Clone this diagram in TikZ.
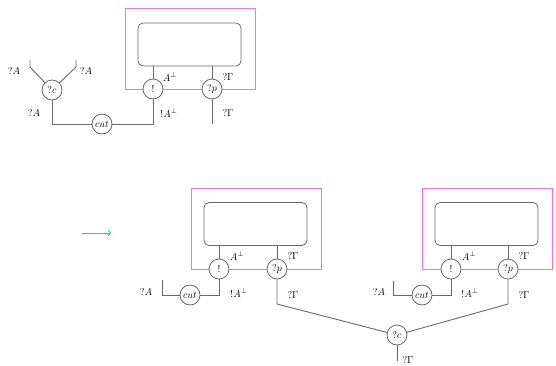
\documentclass[tikz,border=0pt]{standalone}
\usetikzlibrary{arrows.meta}
\definecolor{wirec}{RGB}{105,105,105}
\definecolor{framec}{RGB}{245,110,245}
\definecolor{arrowc}{RGB}{50,190,200}
\begin{document}
\begin{tikzpicture}[x=1pt,y=-1pt,
  wire/.style={draw=wirec, line width=0.9pt},
  cell/.style={circle, draw=wirec, line width=0.8pt, fill=white, minimum size=20pt, inner sep=0.5pt, font=\normalsize},
  netbox/.style={draw=wirec, rounded corners=5pt, line width=0.8pt, minimum width=103pt, minimum height=43pt, inner sep=0pt},
  magframe/.style={draw=framec, line width=1.2pt},
  lbl/.style={font=\normalsize, inner sep=0pt}
]
\useasboundingbox (0,0) rectangle (556,365);

% ---------- top ----------
\draw[magframe] (125.5,8.5) rectangle (255.5,89.5);
\node[netbox] (net1) at (189.5,44.5) {};
\node[cell] (bang1) at (153,89) {$!$};
\node[cell] (qp1) at (212,89) {$?p$};
\node[cell] (cut1) at (102,124) {$cut$};
\node[cell] (qc1) at (52,90) {$?c$};
\coordinate (qp1e) at (212,124);
\coordinate (l1a) at (30,67); \coordinate (l1b) at (30,60);
\coordinate (r1a) at (76,67); \coordinate (r1b) at (76,60);
\draw[wire] (net1.south -| bang1) -- (bang1);
\draw[wire] (net1.south -| qp1) -- (qp1);
\draw[wire] (bang1) |- (cut1);
\draw[wire] (cut1) -| (qc1);
\draw[wire] (qp1) -- (qp1e);
\draw[wire] (qc1) -- (l1a) -- (l1b);
\draw[wire] (qc1) -- (r1a) -- (r1b);
\node[lbl] (t1) at (14,71) {$?A$};
\node[lbl] (t2) at (86,71) {$?A$};
\node[lbl] (t3) at (34,113) {$?A$};
\node[lbl] (t4) at (170,77) {$A^{\perp}$};
\node[lbl] (t5) at (228,77) {$?\Gamma$};
\node[lbl] (t6) at (169,113) {$!A^{\perp}$};
\node[lbl] (t7) at (228,113) {$?\Gamma$};

% ---------- arrow ----------
\coordinate (arA) at (82,233); \coordinate (arB) at (111,233);
\draw[draw=arrowc, line width=0.9pt, -{To[length=3pt,width=6pt]}] (arA) -- (arB);

% ---------- bottom left ----------
\draw[magframe] (191.5,188.5) rectangle (321.5,269.5);
\node[netbox] (net2) at (255.5,224) {};
\node[cell] (bang2) at (219,269) {$!$};
\node[cell] (qp2) at (277,269) {$?p$};
\node[cell] (cut2) at (190,295) {$cut$};
\coordinate (c2a) at (162,295); \coordinate (c2b) at (162,280);
\coordinate (qp2e) at (277,304);
\draw[wire] (net2.south -| bang2) -- (bang2);
\draw[wire] (net2.south -| qp2) -- (qp2);
\draw[wire] (bang2) |- (cut2);
\draw[wire] (cut2) -- (c2a) -- (c2b);
\node[lbl] (b1) at (237,256) {$A^{\perp}$};
\node[lbl] (b2) at (293,256) {$?\Gamma$};
\node[lbl] (b3) at (146,292) {$?A$};
\node[lbl] (b4) at (239,293) {$!A^{\perp}$};
\node[lbl] (b5) at (293,295) {$?\Gamma$};

% ---------- bottom right ----------
\draw[magframe] (422.5,188.5) rectangle (552.5,269.5);
\node[netbox] (net3) at (486.5,224) {};
\node[cell] (bang3) at (451,269) {$!$};
\node[cell] (qp3) at (508,269) {$?p$};
\node[cell] (cut3) at (422,295) {$cut$};
\coordinate (c3a) at (393,295); \coordinate (c3b) at (393,281);
\coordinate (qp3e) at (508,304);
\draw[wire] (net3.south -| bang3) -- (bang3);
\draw[wire] (net3.south -| qp3) -- (qp3);
\draw[wire] (bang3) |- (cut3);
\draw[wire] (cut3) -- (c3a) -- (c3b);
\node[lbl] (d1) at (469,256) {$A^{\perp}$};
\node[lbl] (d2) at (524,256) {$?\Gamma$};
\node[lbl] (d3) at (379,292) {$?A$};
\node[lbl] (d4) at (470,293) {$!A^{\perp}$};
\node[lbl] (d5) at (524,295) {$?\Gamma$};

% ---------- contraction ----------
\node[cell] (qc2) at (397,335) {$?c$};
\coordinate (qc2e) at (397,361);
\draw[wire] (qp2) -- (qp2e) -- (qc2);
\draw[wire] (qp3) -- (qp3e) -- (qc2);
\draw[wire] (qc2) -- (qc2e);
\node[lbl] (e1) at (408,360) {$?\Gamma$};
\end{tikzpicture}
\end{document}
